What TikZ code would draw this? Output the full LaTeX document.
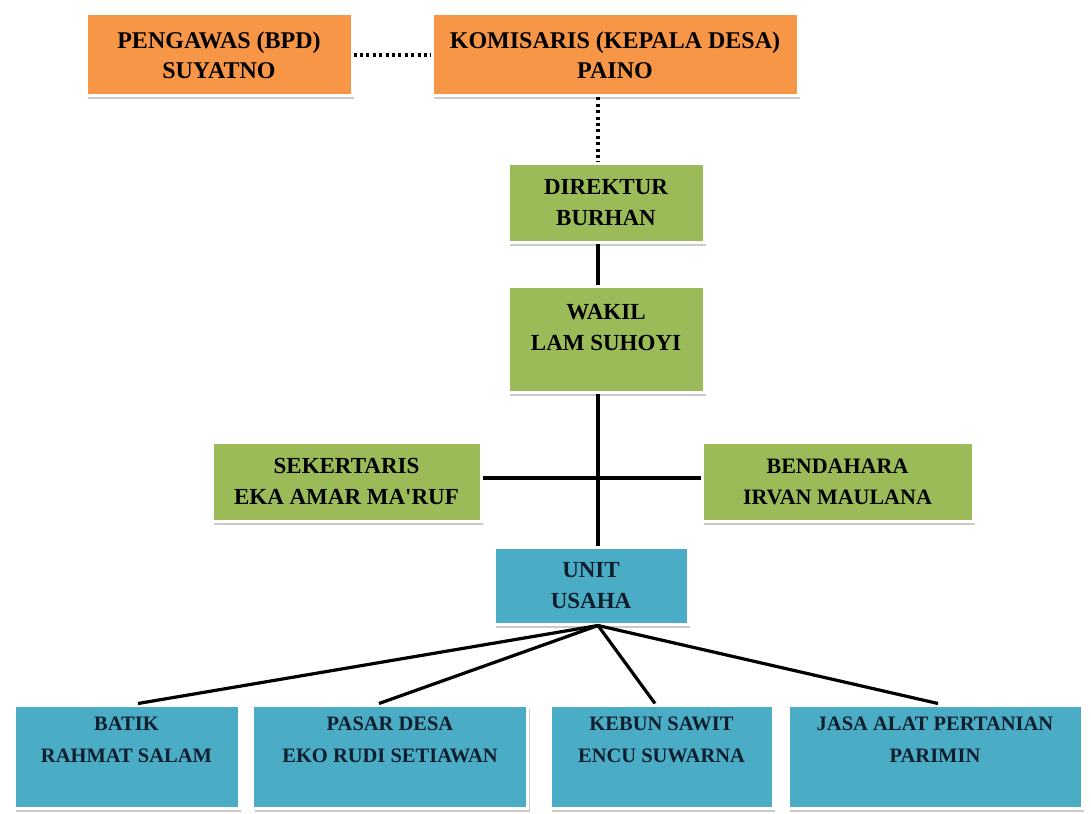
\documentclass[tikz,border=0pt]{standalone}
\usepackage{fontspec}
\setmainfont{Liberation Serif}
\usetikzlibrary{shadows}
\definecolor{orng}{HTML}{F79646}
\definecolor{grn}{HTML}{9BBB59}
\definecolor{blu}{HTML}{4BACC6}
\definecolor{navy}{HTML}{0E1E2C}
\tikzset{
  box/.style={draw=white, line width=3pt, inner sep=0pt, align=center,
    drop shadow={shadow xshift=2pt, shadow yshift=-3.5pt, fill=black!35, opacity=0.6}},
  orbox/.style={box, fill=orng, font=\fontsize{24}{30}\selectfont\bfseries},
  grbox/.style={box, fill=grn, font=\fontsize{23}{31}\selectfont\bfseries},
  blbox/.style={box, fill=blu, text=navy, font=\fontsize{23}{31}\selectfont\bfseries},
  toptxt/.style={anchor=north, align=center, inner sep=0pt},
  wtxt/.style={toptxt, yshift=-19pt, font=\fontsize{23}{31}\selectfont\bfseries},
  btxt/.style={toptxt, yshift=-13pt, text=navy, font=\fontsize{20.5}{32}\selectfont\bfseries},
  conn/.style={line width=3.2pt, black},
  dotline/.style={line width=3.2pt, black, dash pattern=on 3pt off 3.4pt},
}
\begin{document}
\begin{tikzpicture}[x=1pt, y=-1pt]
\useasboundingbox (0,0) rectangle (1091,813);
\coordinate (spine) at (598,0);
\coordinate (hline) at (0,478);

\node[orbox, minimum width=266pt, minimum height=82pt] (peng) at (219,55) {PENGAWAS (BPD)\\SUYATNO};
\node[orbox, minimum width=366pt, minimum height=82pt] (komis) at (615,55) {KOMISARIS (KEPALA DESA)\\PAINO};

\node[grbox, minimum width=196pt, minimum height=78pt] (dir) at (606,203) {DIREKTUR\\BURHAN};
\node[grbox, minimum width=196pt, minimum height=106pt,
  label={[wtxt]north:WAKIL\\LAM SUHOYI}] (wakil) at (606,339.5) {};

\node[grbox, minimum width=269pt, minimum height=79pt] (sek) at (346.5,481.5) {SEKERTARIS\\EKA AMAR MA\textquotesingle RUF};
\node[grbox, minimum width=271pt, minimum height=79pt, font=\fontsize{22}{31}\selectfont\bfseries] (bend) at (837.5,481.5) {BENDAHARA\\IRVAN MAULANA};

\node[blbox, minimum width=194pt, minimum height=77pt] (unit) at (591,585.5) {UNIT\\USAHA};

\node[box, fill=blu, minimum width=225pt, minimum height=103pt,
  label={[btxt]north:BATIK\\RAHMAT SALAM}] (batik) at (126.5,756.5) {};
\node[box, fill=blu, minimum width=275pt, minimum height=103pt,
  label={[btxt]north:PASAR DESA\\EKO RUDI SETIAWAN}] (pasar) at (390,756.5) {};
\node[box, fill=blu, minimum width=223pt, minimum height=103pt,
  label={[btxt]north:KEBUN SAWIT\\ENCU SUWARNA}] (kebun) at (661.5,756.5) {};
\node[box, fill=blu, minimum width=294pt, minimum height=103pt,
  label={[btxt]north:JASA ALAT PERTANIAN\\PARIMIN}] (jasa) at (935,756.5) {};

% connectors
\draw[dotline] (peng.east) -- (komis.west);
\draw[dotline] (komis.south -| spine) -- (dir.north -| spine);
\draw[conn] (dir.south -| spine) -- (wakil.north -| spine);
\draw[conn] (wakil.south -| spine) -- (unit.north -| spine);
\draw[conn] (sek.east |- hline) -- (bend.west |- hline);
\draw[conn] (unit.south -| spine) -- ([xshift=11.5pt]batik.north);
\draw[conn] (unit.south -| spine) -- ([xshift=-11pt]pasar.north);
\draw[conn] (unit.south -| spine) -- ([xshift=-6.5pt]kebun.north);
\draw[conn] (unit.south -| spine) -- ([xshift=3pt]jasa.north);
\end{tikzpicture}
\end{document}
